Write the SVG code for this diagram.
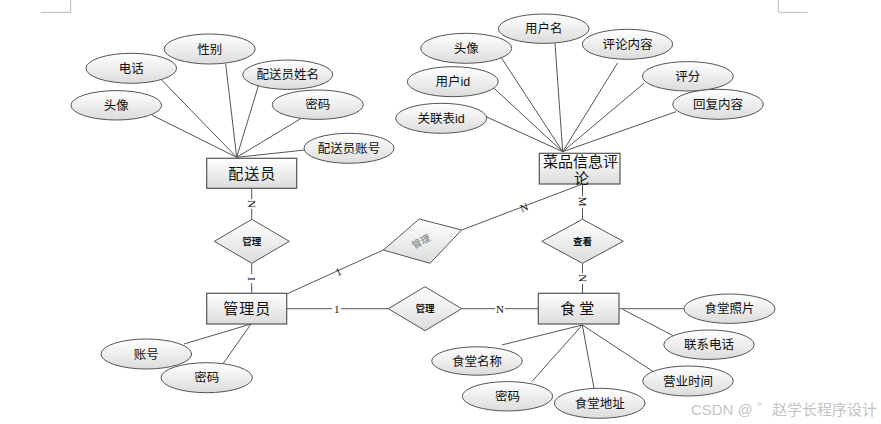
<svg xmlns="http://www.w3.org/2000/svg" width="881" height="424" viewBox="0 0 881 424">
<defs>
<linearGradient id="g" x1="0" y1="0" x2="0" y2="1">
<stop offset="0" stop-color="#ffffff"/>
<stop offset="1" stop-color="#dcdcdc"/>
</linearGradient>
<style>
.e{fill:url(#g);stroke:#555;stroke-width:1}
.r{fill:url(#g);stroke:#555;stroke-width:1.2}
.d{fill:url(#g);stroke:#555;stroke-width:1}
.t{font-family:"Liberation Sans","Noto Sans CJK SC",sans-serif;font-size:12.5px;fill:#111;text-anchor:middle}
.b{font-family:"Liberation Sans","Noto Sans CJK SC",sans-serif;font-size:15px;letter-spacing:1px;fill:#111;text-anchor:middle}
.s{font-family:"Liberation Sans","Noto Sans CJK SC",sans-serif;font-size:9.5px;font-weight:bold;fill:#111;text-anchor:middle}
.l{font-family:"Liberation Serif",serif;font-size:11px;fill:#111;text-anchor:middle}
.c line{stroke:#555;stroke-width:1}
</style>
</defs>
<rect width="881" height="424" fill="#fff"/>
<g stroke="#bbb" stroke-width="1" fill="none">
<path d="M40.7 12.3H70.7V0"/>
<path d="M807.7 12.3H778.3V0"/>
</g>
<g class="c" id="connectors">
<line x1="236.7" y1="157.3" x2="151.7" y2="115"/>
<line x1="236.7" y1="157.3" x2="161.7" y2="80"/>
<line x1="236.7" y1="157.3" x2="225.7" y2="64"/>
<line x1="236.7" y1="157.3" x2="258.3" y2="86"/>
<line x1="236.7" y1="157.3" x2="300.7" y2="118.7"/>
<line x1="236.7" y1="157.3" x2="305" y2="150"/>
<line x1="562.7" y1="151.7" x2="486" y2="116.7"/>
<line x1="562.7" y1="151.7" x2="494" y2="88.3"/>
<line x1="562.7" y1="151.7" x2="501.7" y2="58.3"/>
<line x1="562.7" y1="151.7" x2="555" y2="43.3"/>
<line x1="562.7" y1="151.7" x2="617.7" y2="62.7"/>
<line x1="562.7" y1="151.7" x2="644" y2="83.3"/>
<line x1="562.7" y1="151.7" x2="676" y2="111.7"/>
<line x1="251.7" y1="188.3" x2="251.7" y2="219.3"/>
<line x1="251.7" y1="263.3" x2="251.7" y2="293.3"/>
<line x1="286.7" y1="294" x2="383.3" y2="250"/>
<line x1="461.7" y1="230" x2="582.5" y2="184"/>
<line x1="286.7" y1="308.7" x2="388.3" y2="308.7"/>
<line x1="461.7" y1="308.7" x2="538.3" y2="308.7"/>
<line x1="582.5" y1="184" x2="582.5" y2="219.3"/>
<line x1="582.5" y1="263.3" x2="582.5" y2="293.3"/>
<line x1="619" y1="308.7" x2="684" y2="308.7"/>
<line x1="622.7" y1="309.3" x2="672.7" y2="335.5"/>
<line x1="582.3" y1="325" x2="501.7" y2="345"/>
<line x1="582.3" y1="325" x2="531.7" y2="381.7"/>
<line x1="582.3" y1="325" x2="594" y2="388.3"/>
<line x1="582.3" y1="325" x2="653.3" y2="371.7"/>
<line x1="251" y1="324" x2="184" y2="344"/>
<line x1="251" y1="324" x2="223.3" y2="363.3"/>
</g>
<g id="labels">
<rect x="247" y="199" width="9" height="10" fill="#fff"/>
<text class="l" transform="translate(251.7 204) rotate(90)" y="4">N</text>
<rect x="247" y="274" width="9" height="9" fill="#fff"/>
<text class="l" transform="translate(251.7 278.7) rotate(90)" y="4">1</text>
<text class="l" transform="translate(338.3 271.7) rotate(-24.5)" y="4">1</text>
<text class="l" transform="translate(524 207.3) rotate(-20.8)" y="4">N</text>
<rect x="332" y="303" width="9" height="11" fill="#fff"/>
<text class="l" x="336.7" y="312.7">1</text>
<rect x="495" y="303" width="10" height="11" fill="#fff"/>
<text class="l" x="500" y="312.7">N</text>
<rect x="578" y="196" width="9" height="12" fill="#fff"/>
<text class="l" transform="translate(582.5 201.7) rotate(90)" y="4">M</text>
<rect x="578" y="273" width="9" height="11" fill="#fff"/>
<text class="l" transform="translate(582.5 278.3) rotate(90)" y="4">N</text>
</g>
<g id="peisongyuan"><rect class="r" x="206.7" y="158.3" width="90" height="30"/><text class="b" x="252.2" y="178.5">配送员</text></g>
<g id="caipin"><rect class="r" x="539.3" y="153.3" width="80.7" height="30.7"/><text class="b" x="580.5" y="166.5" style="letter-spacing:0">菜品信息评</text><text class="b" x="581.5" y="184" style="letter-spacing:0">论</text></g>
<g id="guanliyuan"><rect class="r" x="206.7" y="293.3" width="80" height="30.7"/><text class="b" x="247.2" y="314">管理员</text></g>
<g id="shitang"><rect class="r" x="538.3" y="293.3" width="80.7" height="30.7"/><text class="b" x="579.2" y="314" style="letter-spacing:4px">食堂</text></g>
<g id="rel1"><polygon class="d" points="214.3,241.3 251.8,219.3 289.3,241.3 251.8,263.3"/><text class="s" x="251.8" y="244.8">管理</text></g>
<g id="rel2"><polygon class="d" points="383.3,250 419.3,219 461.7,230 430,263.3"/><text class="s" transform="translate(421 241.5) rotate(-28)" y="3.5" style="fill:#777;font-weight:normal">管理</text></g>
<g id="rel3"><polygon class="d" points="388.3,308.7 425,286.7 461.7,308.7 425,330.7"/><text class="s" x="425" y="312.2">管理</text></g>
<g id="rel4"><polygon class="d" points="541.7,241.3 582.5,219.3 623.3,241.3 582.5,263.3"/><text class="s" x="582.5" y="244.8">查看</text></g>
<g id="a1"><ellipse class="e" cx="209.7" cy="49" rx="45.5" ry="15"/><text class="t" x="209.7" y="53.5">性别</text></g>
<g id="a2"><ellipse class="e" cx="131.3" cy="68.3" rx="45.3" ry="15"/><text class="t" x="131.3" y="72.8">电话</text></g>
<g id="a3"><ellipse class="e" cx="287.7" cy="74.7" rx="45" ry="14.7"/><text class="t" x="287.7" y="79.2">配送员姓名</text></g>
<g id="a4"><ellipse class="e" cx="116.3" cy="105.3" rx="45.3" ry="14.7"/><text class="t" x="116.3" y="109.8">头像</text></g>
<g id="a5"><ellipse class="e" cx="317.8" cy="104.7" rx="45.5" ry="14.7"/><text class="t" x="317.8" y="109.2">密码</text></g>
<g id="a6"><ellipse class="e" cx="349" cy="148.3" rx="45" ry="15"/><text class="t" x="349" y="152.8">配送员账号</text></g>
<g id="b1"><ellipse class="e" cx="543.7" cy="28.7" rx="45.3" ry="14.7"/><text class="t" x="543.7" y="33.2">用户名</text></g>
<g id="b2"><ellipse class="e" cx="466.2" cy="48.3" rx="45.5" ry="15"/><text class="t" x="466.2" y="52.8">头像</text></g>
<g id="b3"><ellipse class="e" cx="627.5" cy="44.3" rx="45.2" ry="15"/><text class="t" x="627.5" y="48.8">评论内容</text></g>
<g id="b4"><ellipse class="e" cx="452.8" cy="81.7" rx="45.5" ry="15"/><text class="t" x="452.8" y="86.2">用户id</text></g>
<g id="b5"><ellipse class="e" cx="687.8" cy="76.3" rx="45.5" ry="14.7"/><text class="t" x="687.8" y="80.8">评分</text></g>
<g id="b6"><ellipse class="e" cx="718" cy="104.3" rx="45.3" ry="15"/><text class="t" x="718" y="108.8">回复内容</text></g>
<g id="b7"><ellipse class="e" cx="441.2" cy="118.3" rx="45.5" ry="15"/><text class="t" x="441.2" y="122.8">关联表id</text></g>
<g id="c1"><ellipse class="e" cx="146.3" cy="354" rx="45.3" ry="15"/><text class="t" x="146.3" y="358.5">账号</text></g>
<g id="c2"><ellipse class="e" cx="206.7" cy="377.7" rx="45.7" ry="15"/><text class="t" x="206.7" y="382.2">密码</text></g>
<g id="d1"><ellipse class="e" cx="729.5" cy="308.7" rx="45.5" ry="14.7"/><text class="t" x="729.5" y="313.2">食堂照片</text></g>
<g id="d2"><ellipse class="e" cx="709" cy="344.7" rx="45.2" ry="14.7"/><text class="t" x="709" y="349.2">联系电话</text></g>
<g id="d3"><ellipse class="e" cx="477" cy="361" rx="45.3" ry="14.2"/><text class="t" x="477" y="365.5">食堂名称</text></g>
<g id="d4"><ellipse class="e" cx="688" cy="381" rx="45.3" ry="15"/><text class="t" x="688" y="385.5">营业时间</text></g>
<g id="d5"><ellipse class="e" cx="507.5" cy="396.3" rx="45.2" ry="14.7"/><text class="t" x="507.5" y="400.8">密码</text></g>
<g id="d6"><ellipse class="e" cx="599.7" cy="403.3" rx="45.3" ry="15"/><text class="t" x="599.7" y="407.8">食堂地址</text></g>
<text x="877" y="415" style="font-family:'Liberation Sans','Noto Sans CJK SC',sans-serif;font-size:15px;fill:#c4c4c4;text-anchor:end">CSDN @ ゛赵学长程序设计</text>
</svg>
